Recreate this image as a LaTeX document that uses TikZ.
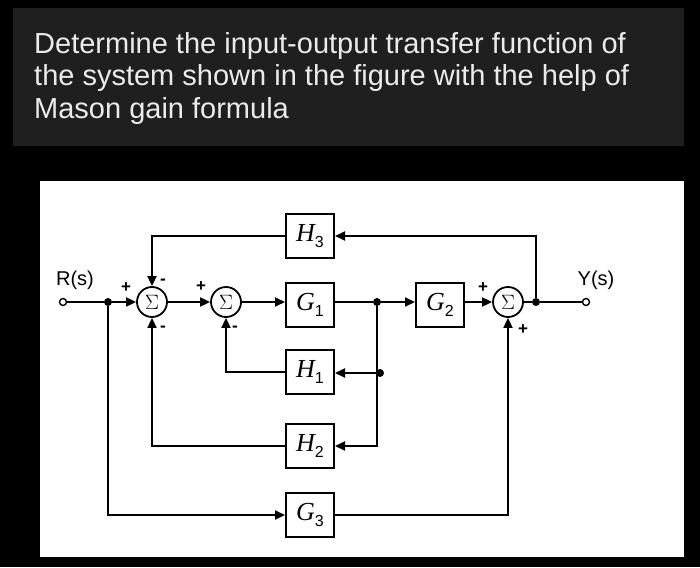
\documentclass[tikz,border=0pt]{standalone}
\usepackage{fontspec}
\setmainfont{Liberation Sans}
\newfontfamily\tms{Liberation Serif}
\usetikzlibrary{arrows.meta}
\begin{document}
\begin{tikzpicture}[x=1pt,y=-1pt,
  blk/.style={draw,line width=2pt,minimum width=48pt,minimum height=44pt,inner sep=0pt,font=\tms\itshape\fontsize{26}{26}\selectfont},
  sumn/.style={draw,circle,line width=1.8pt,minimum size=30pt,inner sep=0pt,font=\tms\fontsize{20}{20}\selectfont},
  ln/.style={line width=1.8pt},
  ar/.style={ln,-{Triangle[length=10pt,width=9pt]}},
  dot/.style={circle,fill,inner sep=0pt,minimum size=8pt},
  term/.style={circle,draw,line width=1.4pt,inner sep=0pt,minimum size=7pt,fill=white},
  sg/.style={font=\fontsize{17}{17}\selectfont\bfseries,inner sep=0pt},
  lbl/.style={font=\fontsize{20}{20}\selectfont,inner sep=0pt}]
\fill[black] (0,0) rectangle (700,567);
\useasboundingbox (0,0) rectangle (700,567);
\fill[black!88] (13,8) rectangle (684,146);
\node[anchor=north west,align=left,text=white!92!black,font=\fontsize{29}{32.5}\selectfont,inner sep=0pt] (title) at (34,32)
 {Determine the input-output transfer function of\\the system shown in the figure with the help of\\Mason gain formula};
\fill[white] (40,181) rectangle (684,557);
% nodes
\node[term] (R) at (63,302) {};
\node[lbl] (Rl) at (75,280) {R(s)};
\node[dot] (j1) at (108,302) {};
\node[sumn] (s1) at (152,302) {$\Sigma$};
\node[sumn] (s2) at (226,302) {$\Sigma$};
\node[blk] (G1) at (310,305) {G\raisebox{-6pt}{\rmfamily\upshape\fontsize{16}{16}\selectfont 1}};
\node[blk] (H3) at (310,236) {H\raisebox{-6pt}{\rmfamily\upshape\fontsize{16}{16}\selectfont 3}};
\node[blk] (H1) at (310,372) {H\raisebox{-6pt}{\rmfamily\upshape\fontsize{16}{16}\selectfont 1}};
\node[blk] (H2) at (310,446) {H\raisebox{-6pt}{\rmfamily\upshape\fontsize{16}{16}\selectfont 2}};
\node[blk] (G3) at (310,515) {G\raisebox{-6pt}{\rmfamily\upshape\fontsize{16}{16}\selectfont 3}};
\node[dot] (j2) at (377,302) {};
\node[dot] (j3) at (380,373) {};
\node[blk] (G2) at (440,305) {G\raisebox{-6pt}{\rmfamily\upshape\fontsize{16}{16}\selectfont 2}};
\node[sumn] (s3) at (508,302) {$\Sigma$};
\node[dot] (j4) at (536,302) {};
\node[term] (Y) at (586,302) {};
\node[lbl] (Yl) at (596,280) {Y(s)};
% connectors
\draw[ln] (R) -- (j1);
\draw[ar] (j1) -- (s1);
\draw[ar] (s1) -- (s2);
\draw[ar] (s2) -- (G1.west|-s2);
\draw[ln] (G1.east|-s2) -- (j2);
\draw[ar] (j2) -- (G2.west|-j2);
\draw[ar] (G2.east|-s3) -- (s3);
\draw[ln] (s3) -- (j4);
\draw[ln] (j4) -- (Y);
\draw[ar] (j4) |- (H3);
\draw[ar] (H3) -| (s1);
\draw[ar] (j3) -- (H1.east|-j3);
\draw[ar] (j2) |- (H2);
\draw[ar] (H1) -| (s2);
\draw[ar] (H2) -| (s1);
\draw[ar] (j1) |- (G3);
\draw[ar] (G3) -| (s3);
% signs
\node[sg] at (126,288) {+};
\node[sg] at (163,282) {-};
\node[sg] at (163,329) {-};
\node[sg] at (201,287) {+};
\node[sg] at (235,329) {-};
\node[sg] at (483,288) {+};
\node[sg] at (523,330) {+};
\end{tikzpicture}
\end{document}
